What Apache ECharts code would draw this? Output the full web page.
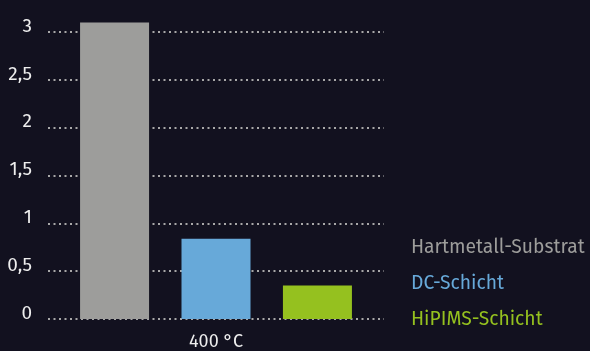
<!DOCTYPE html>
<html>
<head>
<meta charset="utf-8">
<script src="https://cdn.jsdelivr.net/npm/echarts@6/dist/echarts.min.js"></script>
<style>
html, body { margin: 0; padding: 0; background: #12111f; }
#chart { width: 590px; height: 351px; }
</style>
</head>
<body>
<div id="chart"></div>
<script>
// Werte
const categories = ['400 °C'];
const seriesNames = ['Hartmetall-Substrat', 'DC-Schicht', 'HiPIMS-Schicht'];
const substrat = [3.1];
const dcSchicht = [0.84];
const hipims = [0.35];
const colors = ['#9d9d9b', '#67a9d9', '#95c11f'];

const chart = echarts.init(document.getElementById('chart'));
const font = '"Fira Sans", "Open Sans", "Noto Sans", sans-serif';

const option = {
  backgroundColor: '#12111f',
  animation: false,
  grid: { left: 48, right: 206, top: 32, bottom: 25 },
  legend: {
    orient: 'vertical',
    left: 401,
    top: 231,
    itemWidth: 0,
    itemHeight: 0,
    itemGap: 12,
    icon: 'rect',
    selectedMode: false,
    data: seriesNames.map((n, i) => ({
      name: n,
      textStyle: { color: colors[i], fontSize: 19.3, fontFamily: font, lineHeight: 24 }
    }))
  },
  xAxis: {
    type: 'category',
    data: categories,
    axisLine: { show: false },
    axisTick: { show: false },
    axisLabel: { color: '#eeeeee', fontSize: 18, fontFamily: font, margin: 14 }
  },
  yAxis: {
    type: 'value',
    min: 0,
    max: 3,
    interval: 0.5,
    axisLine: { show: false },
    axisTick: { show: false },
    axisLabel: {
      color: '#eeeeee',
      fontSize: 19,
      fontFamily: font,
      margin: 16,
      verticalAlign: 'bottom',
      lineHeight: 11,
      formatter: v => String(v).replace('.', ',')
    },
    splitLine: {
      lineStyle: { color: '#a8a8a8', width: 2, type: [2, 3.5] }
    }
  },
  series: [
    { name: seriesNames[0], type: 'bar', data: substrat, clip: false, barWidth: 69, barGap: '47%', itemStyle: { color: colors[0] } },
    { name: seriesNames[1], type: 'bar', data: dcSchicht, clip: false, barWidth: 69, barGap: '47%', itemStyle: { color: colors[1] } },
    { name: seriesNames[2], type: 'bar', data: hipims, clip: false, barWidth: 69, barGap: '47%', itemStyle: { color: colors[2] } }
  ]
};

chart.setOption(option);
</script>
</body>
</html>
